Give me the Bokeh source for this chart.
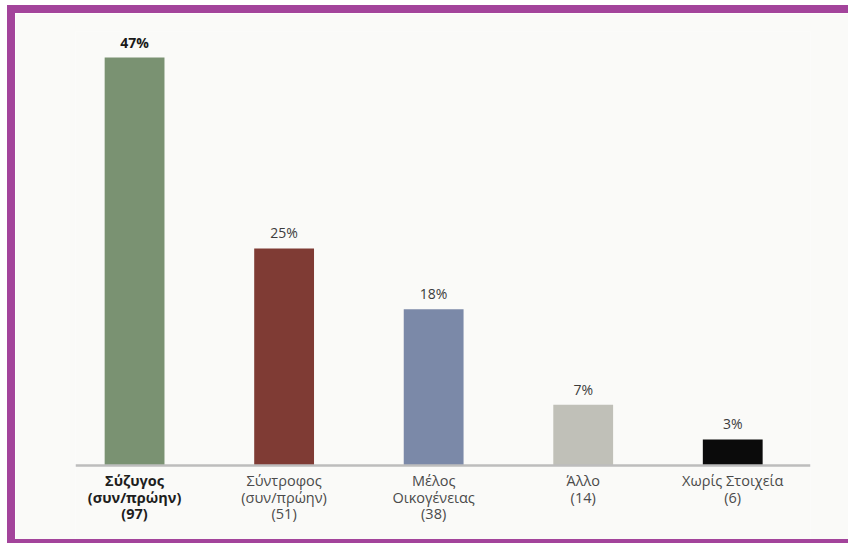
from bokeh.plotting import figure
from bokeh.models import ColumnDataSource, Range1d, Span
from bokeh.core.properties import value
from bokeh.embed import file_html
from bokeh.resources import INLINE

# ---- data ----
categories = ["Σύζυγος\n(συν/πρώην)\n(97)",
              "Σύντροφος\n(συν/πρώην)\n(51)",
              "Μέλος\nΟικογένειας\n(38)",
              "Άλλο\n(14)",
              "Χωρίς Στοιχεία\n(6)"]
percent = [47, 25, 18, 7, 3]
pct_labels = ["47%", "25%", "18%", "7%", "3%"]
colors = ["#7a9272", "#7f3b34", "#7b89a8", "#c0c0b8", "#0b0b0b"]
label_weights = ["bold", "normal", "normal", "normal", "normal"]
label_colors = ["#1e1e1e", "#4a4a4a", "#4a4a4a", "#4a4a4a", "#4a4a4a"]
pct_colors = ["#1a1a1a", "#3c3c3c", "#3c3c3c", "#3c3c3c", "#3c3c3c"]
pct_weights = ["bold", "normal", "normal", "normal", "normal"]

xpos = list(range(len(categories)))
zeros = [0] * len(categories)

src = ColumnDataSource(dict(x=xpos, top=percent, color=colors, cat=categories,
                            pct=pct_labels, zero=zeros, lw=label_weights,
                            lc=label_colors, pc=pct_colors, pw=pct_weights))

PURPLE = "#a3449b"
BG = "#fafaf8"

p = figure(width=841, height=538, output_backend="svg", toolbar_location=None,
           x_axis_location=None, y_axis_location=None,
           x_range=Range1d(-0.395, 4.52), y_range=Range1d(-8.53, 50.0),
           min_border_left=60, min_border_right=46, min_border_top=18,
           min_border_bottom=12)
p.styles = {"margin-left": "7px", "margin-top": "5px",
            "border-left": f"8px solid {PURPLE}",
            "border-top": f"8px solid {PURPLE}",
            "border-bottom": f"4px solid {PURPLE}"}
p.outline_line_color = None
p.xgrid.visible = False
p.ygrid.visible = False
p.background_fill_color = BG
p.border_fill_color = BG

p.vbar(x="x", top="top", bottom=0, width=0.4, fill_color="color",
       line_color=None, source=src)

p.add_layout(Span(location=0, dimension="width", line_color="#bdbdbd",
                  line_width=2.5))

p.text(x="x", y="top", text="pct", source=src, text_align="center",
       text_baseline="bottom", y_offset=-6, text_font=value("Open Sans"),
       text_font_size="14px", text_font_style="pw", text_color="pc")

p.text(x="x", y="zero", text="cat", source=src, text_align="center",
       text_baseline="top", y_offset=6, text_font=value("Open Sans"),
       text_font_size="14.5px", text_font_style="lw", text_color="lc",
       text_line_height=0.85)

open("out.html", "w").write(file_html(p, INLINE))
